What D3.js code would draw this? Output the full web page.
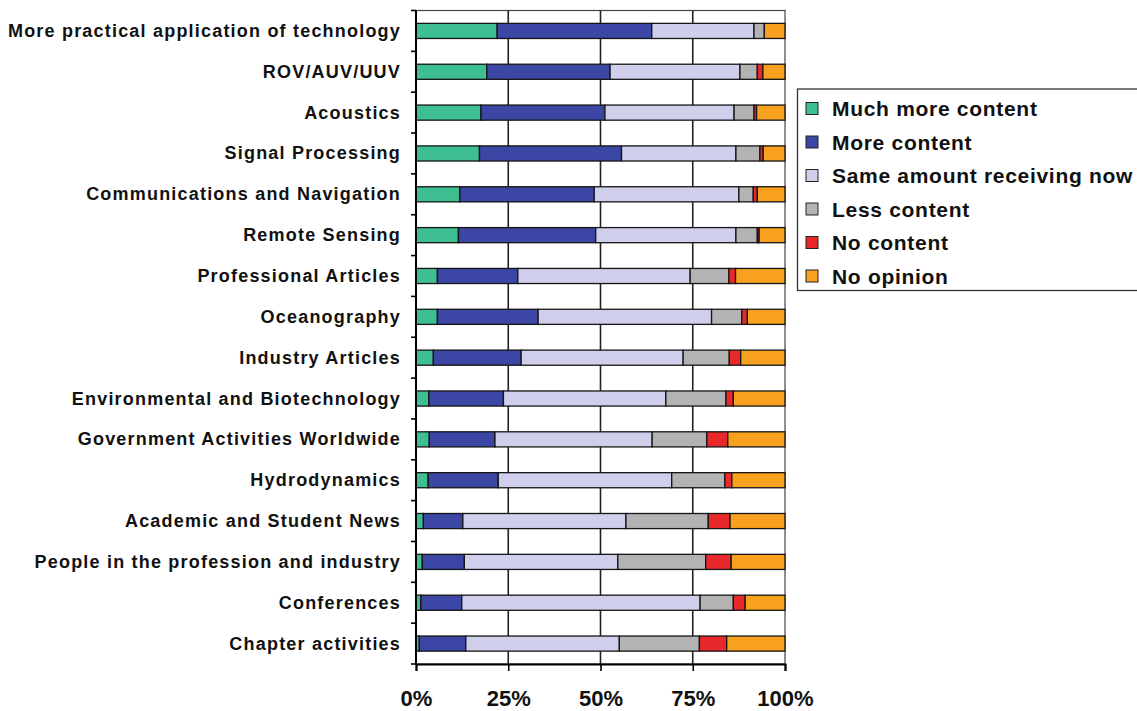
<!DOCTYPE html>
<html>
<head>
<meta charset="utf-8">
<script src="https://cdn.jsdelivr.net/npm/d3@7"></script>
<style>
  html, body { margin: 0; padding: 0; background: #fff; }
  svg { display: block; font-family: "Liberation Sans", Arial, sans-serif; }
</style>
</head>
<body>
<svg id="chart" width="1137" height="711"></svg>
<script>
// categories, top to bottom
const categories = [
    'More practical application of technology',
    'ROV/AUV/UUV',
    'Acoustics',
    'Signal Processing',
    'Communications and Navigation',
    'Remote Sensing',
    'Professional Articles',
    'Oceanography',
    'Industry Articles',
    'Environmental and Biotechnology',
    'Government Activities Worldwide',
    'Hydrodynamics',
    'Academic and Student News',
    'People in the profession and industry',
    'Conferences',
    'Chapter activities',
];

const seriesNames = [
    'Much more content',
    'More content',
    'Same amount receiving now',
    'Less content',
    'No content',
    'No opinion',
];

// percent of answers, one value per category
const muchMore = [22.0, 19.2, 17.6, 17.2, 11.9, 11.5, 5.8, 5.8, 4.7, 3.5, 3.6, 3.3, 2.0, 1.7, 1.3, 0.9];
const more = [41.9, 33.4, 33.6, 38.5, 36.4, 37.2, 21.8, 27.3, 23.8, 20.2, 17.8, 19.0, 10.7, 11.4, 11.1, 12.6];
const same = [27.7, 35.2, 35.0, 31.0, 39.2, 38.0, 46.7, 47.0, 43.9, 44.0, 42.6, 47.0, 44.2, 41.6, 64.6, 41.6];
const less = [2.8, 4.7, 5.4, 6.5, 3.9, 5.8, 10.5, 8.2, 12.5, 16.3, 14.8, 14.4, 22.3, 23.8, 9.0, 21.7];
const noContent = [0.0, 1.5, 0.7, 0.9, 1.1, 0.5, 1.8, 1.5, 3.1, 2.0, 5.7, 1.9, 5.9, 6.9, 3.2, 7.4];
const noOpinion = [5.6, 6.0, 7.7, 5.9, 7.5, 7.0, 13.4, 10.2, 12.0, 14.0, 15.5, 14.4, 14.9, 14.6, 10.8, 15.8];

const tickValues = [0, 25, 50, 75, 100];
const tickLabels = ['0%', '25%', '50%', '75%', '100%'];

const colors = ['#3dbf92', '#3b46a5', '#cfcfec', '#b3b3b3', '#e8282b', '#f8a11f'];

const seriesValues = [muchMore, more, same, less, noContent, noOpinion];
const rows = categories.map((c, i) => {
    const row = { category: c };
    seriesNames.forEach((s, j) => { row[s] = seriesValues[j][i]; });
    return row;
});

const svg = d3.select('#chart');
const plotLeft = 416, plotRight = 785, plotTop = 10.5, plotBottom = 664;

const x = d3.scaleLinear().domain([0, 100]).range([plotLeft, plotRight]);
const y = d3.scaleBand()
    .domain(categories)
    .range([plotTop, plotBottom])
    .paddingInner(0.63)
    .paddingOuter(0.315);

// plot frame (top / right)
svg.append('rect')
    .attr('x', plotLeft)
    .attr('y', plotTop)
    .attr('width', plotRight - plotLeft)
    .attr('height', plotBottom - plotTop)
    .attr('fill', '#fff')
    .attr('stroke', '#444')
    .attr('stroke-width', 1.2);

// vertical grid lines
svg.append('g')
    .selectAll('line')
    .data(tickValues.slice(1, -1))
    .enter()
    .append('line')
    .attr('x1', d => x(d))
    .attr('x2', d => x(d))
    .attr('y1', plotTop)
    .attr('y2', plotBottom)
    .attr('stroke', '#222')
    .attr('stroke-width', 1.6);

// stacked bars
const stack = d3.stack().keys(seriesNames)(rows);
const layer = svg.append('g')
    .selectAll('g')
    .data(stack)
    .enter()
    .append('g')
    .attr('fill', (d, i) => colors[i]);
layer.selectAll('rect')
    .data(d => d.filter(v => v[1] - v[0] > 0))
    .enter()
    .append('rect')
    .attr('x', d => x(d[0]))
    .attr('y', d => y(d.data.category))
    .attr('width', d => x(d[1]) - x(d[0]))
    .attr('height', y.bandwidth())
    .attr('stroke', '#151515')
    .attr('stroke-width', 1.3);

// y axis: line, boundary ticks, labels
const yAxis = svg.append('g');
yAxis.append('line')
    .attr('x1', plotLeft).attr('x2', plotLeft)
    .attr('y1', plotTop).attr('y2', plotBottom)
    .attr('stroke', '#000')
    .attr('stroke-width', 2);
yAxis.selectAll('.btick')
    .data(d3.range(categories.length + 1))
    .enter()
    .append('line')
    .attr('x1', plotLeft - 5)
    .attr('x2', plotLeft)
    .attr('y1', i => plotTop + i * y.step())
    .attr('y2', i => plotTop + i * y.step())
    .attr('stroke', '#000')
    .attr('stroke-width', 1.6);
yAxis.selectAll('text')
    .data(categories)
    .enter()
    .append('text')
    .attr('x', plotLeft - 15)
    .attr('y', d => y(d) + y.bandwidth() / 2)
    .attr('text-anchor', 'end')
    .attr('dominant-baseline', 'central')
    .style('font-size', '18px')
    .style('letter-spacing', '1.2px')
    .style('font-weight', 'bold')
    .style('fill', '#111')
    .text(d => d);

// x axis
const xAxis = svg.append('g')
    .attr('transform', `translate(0,${plotBottom})`)
    .call(d3.axisBottom(x)
        .tickValues(tickValues)
        .tickFormat((d, i) => tickLabels[i])
        .tickSize(7)
        .tickPadding(19));
xAxis.select('.domain').attr('stroke', '#000').attr('stroke-width', 2);
xAxis.selectAll('.tick line').attr('stroke', '#000').attr('stroke-width', 1.6);
xAxis.selectAll('.tick text')
    .style('font-size', '22px')
    .style('font-weight', 'bold')
    .style('font-family', '"Liberation Sans", Arial, sans-serif')
    .attr('fill', '#111');

// legend
const legend = svg.append('g');
legend.append('rect')
    .attr('x', 797.5)
    .attr('y', 89)
    .attr('width', 360)
    .attr('height', 201.5)
    .attr('fill', '#fff')
    .attr('stroke', '#333')
    .attr('stroke-width', 1.3);
const item = legend.selectAll('.item')
    .data(seriesNames)
    .enter()
    .append('g')
    .attr('transform', (d, i) => `translate(806,${108.5 + i * 33.5})`);
item.append('rect')
    .attr('x', 0)
    .attr('y', -6)
    .attr('width', 12)
    .attr('height', 12)
    .attr('fill', (d, i) => colors[i])
    .attr('stroke', '#222')
    .attr('stroke-width', 1);
item.append('text')
    .attr('x', 26)
    .attr('y', 0)
    .attr('dominant-baseline', 'central')
    .style('font-size', '21px')
    .style('letter-spacing', '0.7px')
    .style('font-weight', 'bold')
    .style('fill', '#111')
    .text(d => d);
</script>
</body>
</html>
